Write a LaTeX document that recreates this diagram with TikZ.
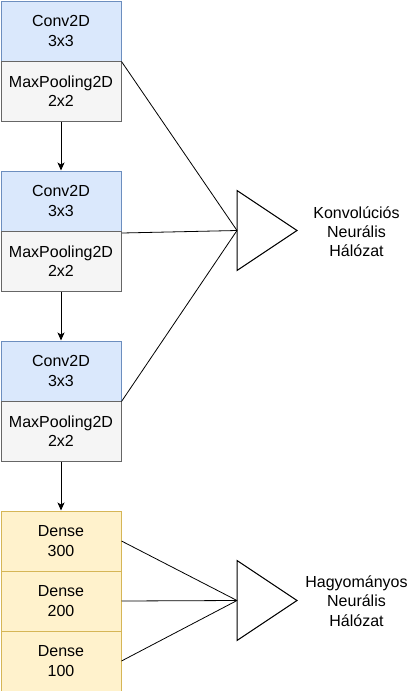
\documentclass[tikz,border=0pt]{standalone}
\usepackage{fontspec}
\setmainfont{Liberation Sans}
\usetikzlibrary{arrows.meta}
\definecolor{convfill}{HTML}{DAE8FC}
\definecolor{convdraw}{HTML}{6C8EBF}
\definecolor{poolfill}{HTML}{F5F5F5}
\definecolor{pooldraw}{HTML}{666666}
\definecolor{densefill}{HTML}{FFF2CC}
\definecolor{densedraw}{HTML}{D6B656}
\tikzset{
  layer/.style={minimum width=120pt, minimum height=60pt, inner sep=0pt, align=center, line width=1pt,
    font=\fontsize{16}{19.2}\selectfont, anchor=north west},
  convbox/.style={layer, fill=convfill, draw=convdraw},
  poolbox/.style={layer, fill=poolfill, draw=pooldraw},
  densebox/.style={layer, fill=densefill, draw=densedraw},
  link/.style={line width=0.8pt, black},
  flow/.style={line width=1pt, black, -{Stealth[length=8pt,width=7pt,inset=2pt]}},
  tri/.style={line width=1pt, black, fill=white},
  lbl/.style={align=center, font=\fontsize{16}{19.2}\selectfont, inner sep=0pt}
}
\begin{document}
\begin{tikzpicture}[x=1pt,y=-1pt]
\useasboundingbox (0,0) rectangle (420,691);
% CNN blocks
\node[convbox] (c1) at (0.5,0.5) {Conv2D\\3x3};
\node[poolbox] (p1) at (0.5,60.5) {MaxPooling2D\\2x2};
\node[convbox] (c2) at (0.5,170.5) {Conv2D\\3x3};
\node[poolbox] (p2) at (0.5,230.5) {MaxPooling2D\\2x2};
\node[convbox] (c3) at (0.5,340.5) {Conv2D\\3x3};
\node[poolbox] (p3) at (0.5,400.5) {MaxPooling2D\\2x2};
% Dense blocks
\node[densebox] (d1) at (0.5,510.5) {Dense\\300};
\node[densebox] (d2) at (0.5,570.5) {Dense\\200};
\node[densebox] (d3) at (0.5,630.5) {Dense\\100};
% flow arrows
\draw[flow] (p1.south) -- (c2.north);
\draw[flow] (p2.south) -- (c3.north);
\draw[flow] (p3.south) -- (d1.north);
% triangles
\coordinate (t1) at (237,230.5);
\coordinate (t2) at (237,600.5);
\draw[tri] (237,190.5) -- (297,230.5) -- (237,270.5) -- cycle;
\draw[tri] (237,560.5) -- (297,600.5) -- (237,640.5) -- cycle;
% links
\coordinate (l2) at (122,233);
\draw[link] (c1.south east) -- (t1);
\draw[link] (l2) -- (t1);
\draw[link] (c3.south east) -- (t1);
\draw[link] (d1.east) -- (t2);
\draw[link] (d2.east) -- (t2);
\draw[link] (d3.east) -- (t2);
% labels
\node[lbl] (k) at (356.5,231.5) {Konvolúciós\\Neurális\\Hálózat};
\node[lbl] (h) at (356.5,601) {Hagyományos\\Neurális\\Hálózat};
\end{tikzpicture}
\end{document}
